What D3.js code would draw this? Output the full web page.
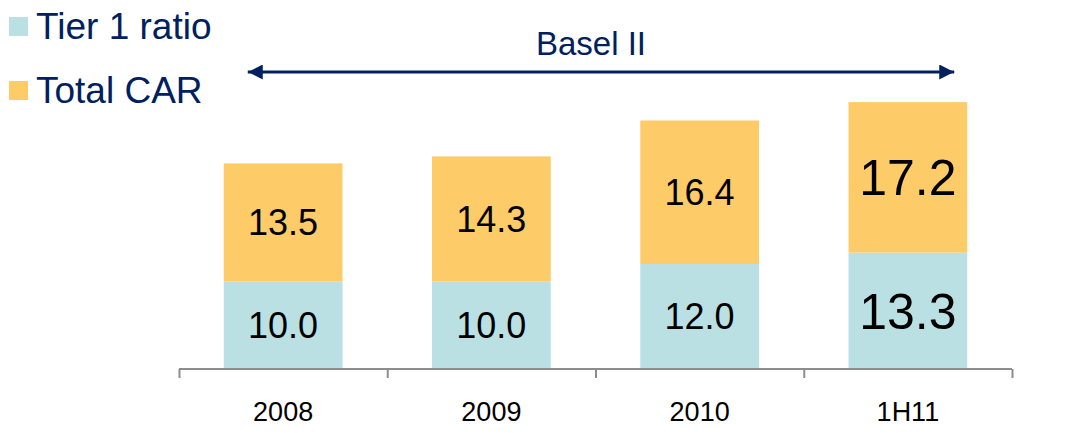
<!DOCTYPE html>
<html>
<head>
<meta charset="utf-8">
<script src="https://cdn.jsdelivr.net/npm/d3@7"></script>
<style>
  body { margin: 0; background: #fff; }
  svg { display: block; font-family: "Liberation Sans", Arial, sans-serif; }
</style>
</head>
<body>
<svg width="1068" height="433"></svg>
<script>
// data
var categories = ["2008", "2009", "2010", "1H11"];
var tier1 = [10.0, 10.0, 12.0, 13.3];
var totalCar = [13.5, 14.3, 16.4, 17.2];
var labelSizes = [36, 36, 36, 50];

var navy = "#002060",
    tealColour = "#BAE0E3",
    orangeColour = "#FECB69";

var svg = d3.select("svg");

// scales
var x = d3.scaleBand()
    .domain(categories)
    .range([179, 1012])
    .paddingInner(0.43)
    .paddingOuter(0.215);

var y = d3.scaleLinear()
    .domain([0, 35])
    .range([369, 62.75]);

// stack the two series (Total CAR sits on top of Tier 1)
var rows = categories.map(function (c, i) {
    return { cat: c, tier1: tier1[i], total: totalCar[i], size: labelSizes[i] };
});
var stacked = d3.stack().keys(["tier1", "total"])(rows);
var colours = { tier1: tealColour, total: orangeColour };

var layer = svg.append("g").attr("class", "bars")
    .selectAll("g")
    .data(stacked)
    .enter().append("g")
    .attr("fill", function (d) { return colours[d.key]; });

layer.selectAll("rect")
    .data(function (d) { return d; })
    .enter().append("rect")
    .attr("x", function (d) { return x(d.data.cat); })
    .attr("width", x.bandwidth())
    .attr("y", function (d) { return y(d[1]); })
    .attr("height", function (d) { return y(d[0]) - y(d[1]); });

// value labels centred in each segment
layer.selectAll("text")
    .data(function (d) { return d.map(function (p) { return { p: p, key: d.key }; }); })
    .enter().append("text")
    .attr("x", function (d) { return x(d.p.data.cat) + x.bandwidth() / 2; })
    .attr("y", function (d) { return (y(d.p[0]) + y(d.p[1])) / 2; })
    .attr("dy", "0.36em")
    .attr("text-anchor", "middle")
    .attr("fill", "#000")
    .style("font-size", function (d) { return d.p.data.size + "px"; })
    .text(function (d) { return d3.format(".1f")(d.p.data[d.key]); });

// axis with ticks at the band boundaries
var edges = d3.scaleLinear().domain([0, categories.length]).range(x.range());
var axis = svg.append("g")
    .attr("transform", "translate(0," + y(0) + ")")
    .call(d3.axisBottom(edges).ticks(categories.length).tickSize(9).tickSizeOuter(0).tickFormat(""));
axis.selectAll("path, line").attr("stroke", "#8c8c8c").attr("stroke-width", 2);
axis.select(".domain").attr("d", "M" + x.range()[0] + ",0H" + x.range()[1]);

var labels = svg.append("g")
    .attr("transform", "translate(0," + y(0) + ")")
    .call(d3.axisBottom(x).tickSize(0).tickPadding(33));
labels.select(".domain").remove();
labels.selectAll("text")
    .attr("fill", "#000")
    .style("font-size", "27px")
    .style("font-family", "\"Liberation Sans\", Arial, sans-serif");

// Basel II arrow spanning all periods
var defs = svg.append("defs");
["start", "end"].forEach(function (k) {
    defs.append("marker")
        .attr("id", "head-" + k)
        .attr("viewBox", "0 0 10 10")
        .attr("refX", k === "end" ? 10 : 0)
        .attr("refY", 5)
        .attr("markerWidth", 5)
        .attr("markerHeight", 5)
        .attr("markerUnits", "strokeWidth")
        .attr("orient", "auto")
        .append("path")
        .attr("d", k === "end" ? "M0,0L10,5L0,10Z" : "M10,0L0,5L10,10Z")
        .attr("fill", navy);
});

svg.append("line")
    .attr("x1", x(categories[0]) + 24)
    .attr("x2", x(categories[categories.length - 1]) + x.bandwidth() - 13)
    .attr("y1", 72).attr("y2", 72)
    .attr("stroke", navy)
    .attr("stroke-width", 3)
    .attr("marker-start", "url(#head-start)")
    .attr("marker-end", "url(#head-end)");

svg.append("text")
    .attr("x", 591)
    .attr("y", 55)
    .attr("text-anchor", "middle")
    .attr("fill", navy)
    .style("font-size", "33px")
    .text("Basel II");

// legend
var legendItems = [
    { name: "Tier 1 ratio", colour: tealColour },
    { name: "Total CAR", colour: orangeColour }
];
var legend = svg.append("g").selectAll("g")
    .data(legendItems)
    .enter().append("g")
    .attr("transform", function (d, i) { return "translate(0," + (i * 64) + ")"; });

legend.append("rect")
    .attr("x", 9).attr("y", 17)
    .attr("width", 19).attr("height", 19)
    .attr("fill", function (d) { return d.colour; });

legend.append("text")
    .attr("x", 36).attr("y", 39)
    .attr("fill", navy)
    .style("font-size", "37px")
    .text(function (d) { return d.name; });
</script>
</body>
</html>
